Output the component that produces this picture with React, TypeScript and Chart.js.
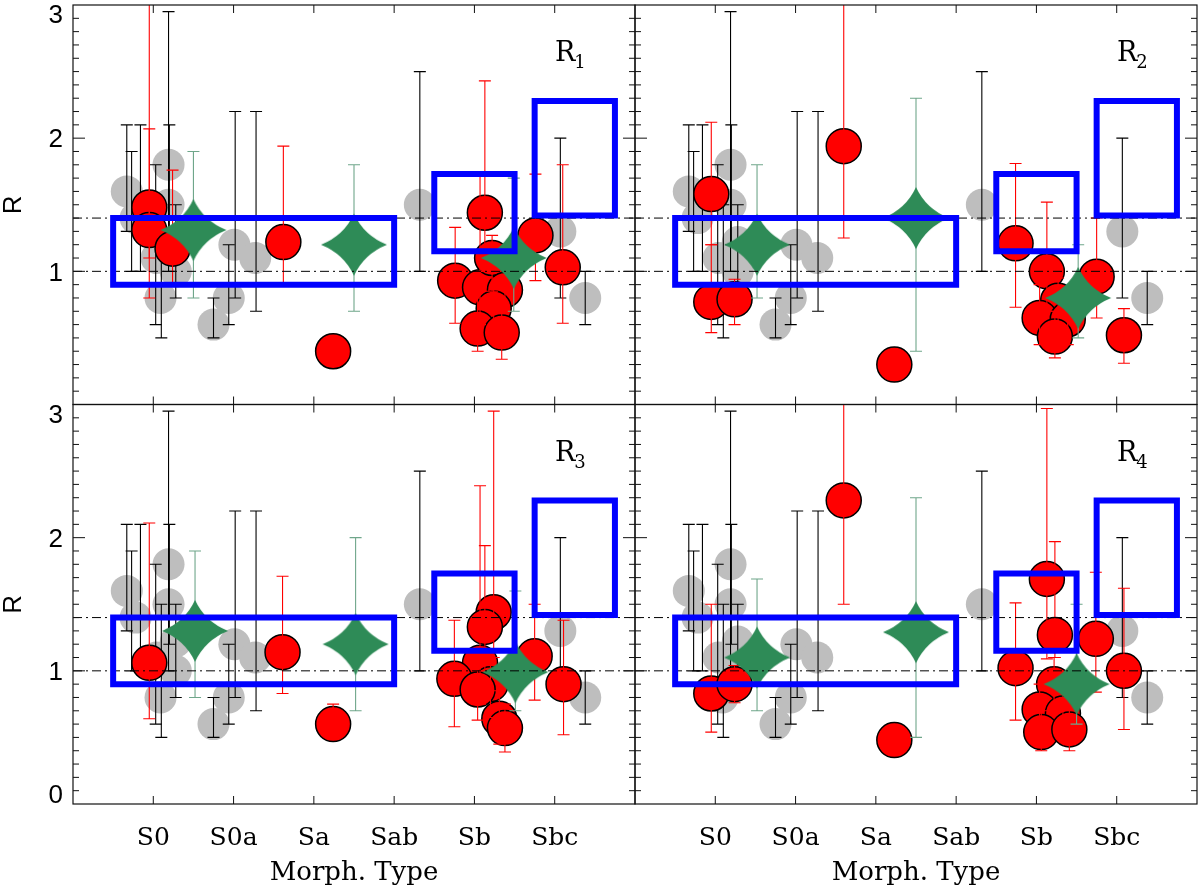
import { useEffect, useRef } from 'react';
import { Chart, registerables } from 'chart.js';

Chart.register(...registerables);

// morphological types, S0 = 0
const typeNames = ['S0', 'S0a', 'Sa', 'Sab', 'Sb', 'Sbc'];
const typeTicks = [0, 1, 2, 3, 4, 5];
const yMajor = [0, 1, 2, 3];
const refLines = [1.0, 1.4];

// reference sample (same in every panel): [x, y]
const grayPoints = [
  [-0.33, 1.6], [-0.22, 1.4], [0.19, 1.8], [0.19, 1.5], [0.04, 1.1], [0.28, 1.22],
  [0.28, 1.0], [0.09, 0.8], [0.75, 0.6], [0.94, 0.8], [1.01, 1.2], [1.27, 1.1],
  [3.32, 1.5], [5.07, 1.3], [5.38, 0.8],
];
// black error bars: [x, y, lo, hi]
const grayBars = [
  [-0.33, null, 1.3, 2.1], [-0.27, null, 1.0, 1.9], [-0.16, null, 1.0, 2.1],
  [0.03, null, 0.6, 1.8], [0.1, null, 0.5, 1.5], [0.19, null, 1.0, 2.95],
  [0.2, null, 1.2, 2.1], [0.28, null, 0.8, 1.5], [0.75, null, 0.5, 0.8],
  [0.94, null, 0.6, 1.2], [1.02, null, 0.8, 2.2], [1.28, null, 0.7, 2.2],
  [3.32, null, 1.0, 2.5], [5.07, null, 0.8, 2.0], [5.38, null, 0.6, 1.0],
];
// blue boxes: [x0, x1, y0, y1]
const boxes = [
  [-0.5, 3.0, 0.9, 1.4],
  [3.5, 4.5, 1.15, 1.73],
  [4.75, 5.75, 1.42, 2.28],
];

// [x, y, lo, hi]
const r1Red = [
  [-0.05, 1.48, 0.8, 3.2], [-0.05, 1.31, 1.1, 2.07], [0.24, 1.17, 0.9, 1.76],
  [1.62, 1.22, 0.9, 1.94], [2.24, 0.4, null, null], [3.76, 0.93, 0.61, 1.33],
  [4.13, 1.44, 1.0, 2.43], [4.07, 0.88, 0.6, 1.73], [4.22, 1.1, 0.85, 1.27],
  [4.38, 0.86, 0.7, 1.2], [4.24, 0.72, 0.5, 0.95], [4.04, 0.57, 0.4, 0.8],
  [4.34, 0.54, 0.34, 0.75], [4.76, 1.27, 0.93, 1.73], [5.1, 1.03, 0.61, 1.8],
];
const r1Green = [[0.5, 1.31, 0.8, 1.9], [2.5, 1.2, 0.7, 1.8], [4.49, 1.1, 0.7, 1.7]];

const r2Red = [
  [-0.05, 1.58, 1.2, 2.12], [-0.05, 0.77, 0.54, 1.2], [0.24, 0.79, 0.6, 0.94],
  [1.6, 1.94, 1.25, 3.2], [2.23, 0.3, null, null], [3.74, 1.21, 0.73, 1.81],
  [4.13, 1.0, 0.7, 1.52], [4.27, 0.78, 0.55, 0.95], [4.04, 0.65, 0.45, 0.9],
  [4.39, 0.64, 0.45, 0.85], [4.23, 0.51, 0.35, 0.7], [4.75, 0.96, 0.65, 1.4],
  [5.09, 0.52, 0.31, 0.72],
];
const r2Green = [[0.52, 1.2, 0.8, 1.8], [2.5, 1.4, 0.4, 2.3], [4.52, 0.8, 0.5, 1.2]];

const r3Red = [
  [-0.05, 1.06, 0.64, 2.11], [1.61, 1.14, 0.83, 1.71], [2.24, 0.6, null, 0.75],
  [4.24, 1.44, 1.1, 2.95], [4.13, 1.33, 1.0, 1.94], [4.07, 1.06, 0.75, 2.39],
  [3.75, 0.94, 0.58, 1.38], [4.2, 0.9, 0.65, 1.15], [4.04, 0.86, 0.63, 1.1],
  [4.31, 0.64, 0.45, 0.85], [4.38, 0.57, 0.39, 0.75], [4.75, 1.11, 0.78, 1.5],
  [5.11, 0.9, 0.52, 1.38],
];
const r3Green = [[0.52, 1.3, 0.8, 1.9], [2.52, 1.2, 0.7, 2.0], [4.51, 0.99, 0.7, 1.6]];

const r4Red = [
  [-0.05, 0.83, 0.54, 1.5], [0.24, 0.9, 0.76, 1.04], [1.6, 2.28, 1.5, 3.2],
  [2.23, 0.48, null, null], [3.74, 1.02, 0.63, 1.51], [4.13, 1.69, 1.09, 2.97],
  [4.23, 1.27, 1.1, 1.97], [4.22, 0.9, 0.7, 1.1], [4.04, 0.71, 0.5, 0.9],
  [4.33, 0.68, 0.5, 0.85], [4.06, 0.54, 0.4, 0.7], [4.41, 0.56, 0.4, 0.75],
  [4.74, 1.24, 0.84, 1.74], [5.09, 1.0, 0.56, 1.62],
];
const r4Green = [[0.52, 1.1, 0.7, 1.69], [2.5, 1.29, 0.5, 2.3], [4.5, 0.9, 0.6, 1.5]];

const panels = [
  { label: '1', red: r1Red, green: r1Green, left: 73, top: 5, right: 635, bottom: 404.5, showY: true, showX: false },
  { label: '2', red: r2Red, green: r2Green, left: 635, top: 5, right: 1197, bottom: 404.5, showY: false, showX: false },
  { label: '3', red: r3Red, green: r3Green, left: 73, top: 404.5, right: 635, bottom: 804, showY: true, showX: true },
  { label: '4', red: r4Red, green: r4Green, left: 635, top: 404.5, right: 1197, bottom: 804, showY: false, showX: true },
];

const W = 1200;
const H = 889;

function makeStar(a: number, b: number, color: string) {
  const c = document.createElement('canvas');
  c.width = a * 2 + 2;
  c.height = b * 2 + 2;
  const g = c.getContext('2d')!;
  const cx = c.width / 2;
  const cy = c.height / 2;
  const k = 0.3;
  g.fillStyle = color;
  g.beginPath();
  g.moveTo(cx, cy - b);
  g.quadraticCurveTo(cx + k * a, cy - k * b, cx + a, cy);
  g.quadraticCurveTo(cx + k * a, cy + k * b, cx, cy + b);
  g.quadraticCurveTo(cx - k * a, cy + k * b, cx - a, cy);
  g.quadraticCurveTo(cx - k * a, cy - k * b, cx, cy - b);
  g.closePath();
  g.fill();
  return c;
}

function drawBars(chart: any, index: number, when: string) {
  const ds = chart.data.datasets[index];
  if (!ds.bars || ds.barsWhen !== when) return;
  const { ctx, chartArea, scales } = chart;
  ctx.save();
  ctx.beginPath();
  ctx.rect(chartArea.left, chartArea.top, chartArea.right - chartArea.left, chartArea.bottom - chartArea.top);
  ctx.clip();
  ctx.strokeStyle = ds.barColor;
  ctx.lineWidth = 1.1;
  for (const [x, y, lo, hi] of ds.bars) {
    if (lo == null && hi == null) continue;
    const px = scales.x.getPixelForValue(x);
    const pLo = scales.y.getPixelForValue(lo ?? y);
    const pHi = scales.y.getPixelForValue(hi ?? y);
    ctx.beginPath();
    ctx.moveTo(px, pLo);
    ctx.lineTo(px, pHi);
    if (lo != null) {
      ctx.moveTo(px - 6, pLo);
      ctx.lineTo(px + 6, pLo);
    }
    if (hi != null) {
      ctx.moveTo(px - 6, pHi);
      ctx.lineTo(px + 6, pHi);
    }
    ctx.stroke();
  }
  ctx.restore();
}

const errBarPlugin = {
  id: 'errBars',
  beforeDatasetDraw(chart: any, args: any) {
    drawBars(chart, args.index, 'before');
  },
  afterDatasetDraw(chart: any, args: any) {
    drawBars(chart, args.index, 'after');
  },
};

const framePlugin = {
  id: 'panelFrame',
  afterDraw(chart: any, _args: any, opts: any) {
    const { ctx, chartArea, scales } = chart;
    const { left, right, top, bottom } = chartArea;
    ctx.save();
    ctx.strokeStyle = '#111';
    ctx.lineWidth = 1.2;
    ctx.strokeRect(left, top, right - left, bottom - top);

    ctx.lineWidth = 1;
    ctx.beginPath();
    for (let i = 1; i < 30; i++) {
      const py = scales.y.getPixelForValue(i / 10);
      const len = i % 10 === 0 ? 12 : 6;
      ctx.moveTo(left, py);
      ctx.lineTo(left + len, py);
      ctx.moveTo(right, py);
      ctx.lineTo(right - len, py);
    }
    for (const t of typeTicks) {
      const px = scales.x.getPixelForValue(t);
      ctx.moveTo(px, bottom);
      ctx.lineTo(px, bottom - 8);
      ctx.moveTo(px, top);
      ctx.lineTo(px, top + 8);
    }
    ctx.stroke();

    ctx.fillStyle = '#000';
    if (opts.showY) {
      ctx.font = '26px "Liberation Sans", Arial, sans-serif';
      ctx.textAlign = 'right';
      ctx.textBaseline = 'middle';
      for (const v of yMajor) {
        if (v === 0 && !opts.showX) continue;
        const py = Math.min(Math.max(scales.y.getPixelForValue(v) + 2, top + 11), bottom - 8);
        ctx.fillText(String(v), left - 10, py);
      }
      ctx.save();
      ctx.translate(14, (top + bottom) / 2);
      ctx.rotate(-Math.PI / 2);
      ctx.textAlign = 'center';
      ctx.fillText('R', 0, 0);
      ctx.restore();
    }
    if (opts.showX) {
      ctx.font = '25px "DejaVu Serif", serif';
      ctx.textAlign = 'center';
      ctx.textBaseline = 'alphabetic';
      typeTicks.forEach((t, i) => {
        ctx.fillText(typeNames[i], scales.x.getPixelForValue(t), bottom + 41);
      });
      ctx.font = '26px "DejaVu Serif", serif';
      ctx.fillText('Morph. Type', (left + right) / 2, bottom + 76);
    }

    ctx.textAlign = 'left';
    ctx.textBaseline = 'alphabetic';
    ctx.font = '27px "DejaVu Serif", serif';
    const rx = right - 80;
    ctx.fillText('R', rx, top + 56);
    const rw = ctx.measureText('R').width;
    ctx.font = '18px "DejaVu Serif", serif';
    ctx.fillText(opts.label, rx + rw - 1, top + 63);
    ctx.restore();
  },
};

function Panel({ p }: { p: (typeof panels)[number] }) {
  const chartRef = useRef<HTMLCanvasElement | null>(null);

  useEffect(() => {
    if (!chartRef.current) return;
    const ctx = chartRef.current.getContext('2d');
    if (!ctx) return;

    const star = makeStar(33, 31, '#2e8b57');

    const lineSets = refLines.map((v) => ({
      data: [{ x: -1, y: v }, { x: 6, y: v }],
      showLine: true,
      pointRadius: 0,
      borderColor: '#000',
      borderWidth: 1,
      borderDash: [9, 4, 2, 4],
      order: 2,
    }));
    const boxSets = boxes.map(([x0, x1, y0, y1]) => ({
      data: [
        { x: x0, y: y0 }, { x: x1, y: y0 }, { x: x1, y: y1 }, { x: x0, y: y1 }, { x: x0, y: y0 },
      ],
      showLine: true,
      pointRadius: 0,
      borderColor: '#0000ff',
      borderWidth: 6,
      borderJoinStyle: 'miter',
      borderCapStyle: 'square',
      order: 1,
    }));

    const chartInstance = new Chart(ctx, {
      type: 'scatter',
      data: {
        datasets: [
          {
            data: grayPoints.map(([x, y]) => ({ x, y })),
            pointRadius: 16,
            pointBackgroundColor: '#bebebe',
            pointBorderWidth: 0,
            bars: grayBars,
            barsWhen: 'after',
            barColor: '#000',
            order: 7,
          },
          {
            data: p.red.map(([x, y]) => ({ x, y })),
            pointRadius: 17.5,
            pointBackgroundColor: '#ff0000',
            pointBorderColor: '#000',
            pointBorderWidth: 1.5,
            bars: p.red,
            barsWhen: 'after',
            barColor: '#ff0000',
            order: 5,
          },
          {
            data: p.green.map(([x, y]) => ({ x, y })),
            pointRadius: 30,
            pointStyle: star,
            bars: p.green,
            barsWhen: 'before',
            barColor: '#6fa68a',
            order: 4,
          },
          ...lineSets,
          ...boxSets,
        ] as any,
      },
      options: {
        responsive: false,
        animation: false,
        events: [],
        layout: {
          autoPadding: false,
          padding: { left: p.left, top: p.top, right: W - p.right, bottom: H - p.bottom },
        },
        scales: {
          x: { type: 'linear', min: -1, max: 6, display: false },
          y: { type: 'linear', min: 0, max: 3, display: false },
        },
        plugins: {
          legend: { display: false },
          tooltip: { enabled: false },
          panelFrame: { label: p.label, showY: p.showY, showX: p.showX },
        } as any,
      },
      plugins: [errBarPlugin, framePlugin],
    });

    return () => chartInstance.destroy();
  }, [p]);

  return (
    <canvas
      ref={chartRef}
      width={W}
      height={H}
      style={{ position: 'absolute', left: 0, top: 0 }}
    ></canvas>
  );
}

export default function App() {
  return (
    <div style={{ position: 'absolute', left: 0, top: 0, width: W, height: H, background: '#fff' }}>
      {panels.map((p) => (
        <Panel key={p.label} p={p} />
      ))}
    </div>
  );
}
